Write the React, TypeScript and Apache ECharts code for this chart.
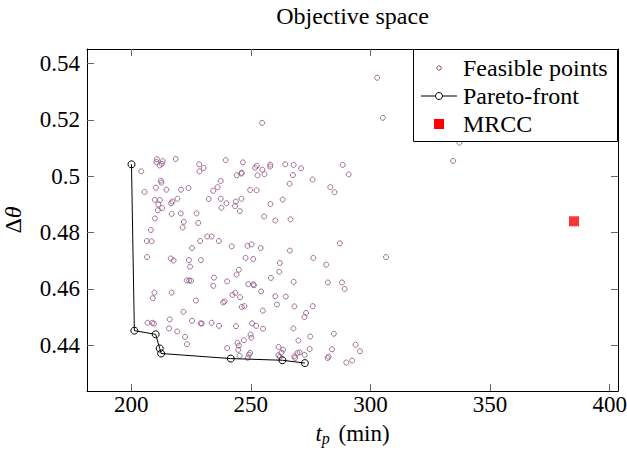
import React, { useEffect, useRef } from "react";
import * as echarts from "echarts";

// Feasible points: processing time t_p (min) and Δθ
const feasibleTp: number[] = [
  302.8, 305.2, 254.7, 334.6, 337.2, 210.7, 210.5, 213.1, 212.8, 211.9, 218.6, 204.2, 228.4, 230.3, 228.5,
  239.5, 246.7, 251.8, 252.5, 254.8, 258.1, 258.1, 264.4, 267.9, 271.0, 246.2, 246.0, 244.1, 252.8, 255.7,
  267.6, 288.4, 290.9, 212.4, 212.6, 237.4, 266.2, 275.8, 210.3, 214.7, 205.6, 220.8, 223.9, 236.1, 234.3,
  249.7, 252.4, 283.2, 285.0, 209.8, 212.0, 219.3, 232.4, 237.4, 246.1, 263.3, 211.3, 216.7, 217.2, 239.8,
  243.7, 243.4, 258.2, 212.9, 211.1, 237.7, 245.4, 216.9, 220.7, 227.3, 255.6, 209.9, 222.0, 228.0, 260.2,
  266.6, 221.5, 208.2, 231.8, 233.6, 206.5, 208.5, 228.8, 236.6, 287.2, 242.0, 248.6, 250.3, 225.4, 254.1,
  266.3, 206.6, 216.5, 217.7, 224.1, 229.1, 247.8, 251.0, 276.1, 306.5, 262.1, 281.5, 224.6, 245.0, 244.0,
  261.9, 234.6, 258.4, 223.2, 224.2, 225.0, 240.1, 267.9, 282.2, 288.1, 248.9, 251.0, 251.3, 234.3, 289.2,
  209.7, 216.9, 243.5, 242.3, 254.3, 245.5, 260.2, 264.6, 209.0, 227.0, 239.0, 238.4, 260.9, 246.2, 247.3,
  268.2, 275.9, 255.0, 221.8, 273.1, 272.4, 216.1, 225.4, 206.8, 208.8, 209.5, 229.0, 229.5, 233.6, 236.7,
  243.8, 250.5, 252.2, 215.8, 255.1, 267.8, 219.2, 249.9, 250.2, 274.8, 284.7, 222.5, 247.1, 269.9, 244.4,
  245.0, 223.3, 293.8, 240.1, 244.7, 261.6, 263.5, 262.8, 274.6, 283.9, 295.6, 249.7, 249.2, 248.7, 245.3,
  270.4, 269.5, 268.2, 268.5, 272.5, 261.5, 262.1, 282.5, 282.1, 289.9, 292.4,
];
const feasibleDTheta: number[] = [
  0.5349, 0.5207, 0.5189, 0.5054, 0.5119, 0.506, 0.505, 0.5053, 0.5044, 0.5038, 0.5061, 0.5017, 0.5042, 0.5029, 0.5017,
  0.5057, 0.5049, 0.503, 0.5037, 0.5023, 0.5041, 0.5034, 0.5042, 0.504, 0.5028, 0.5012, 0.5009, 0.5003, 0.5003, 0.5007,
  0.5004, 0.504, 0.5006, 0.4984, 0.4977, 0.4983, 0.4973, 0.4988, 0.4959, 0.4952, 0.4944, 0.4952, 0.4958, 0.4961, 0.4948,
  0.4951, 0.495, 0.4961, 0.4943, 0.4916, 0.4915, 0.492, 0.4919, 0.492, 0.492, 0.4917, 0.49, 0.4904, 0.491, 0.4904,
  0.491, 0.4894, 0.4901, 0.4887, 0.4879, 0.4888, 0.4876, 0.4866, 0.4868, 0.4868, 0.4857, 0.485, 0.4838, 0.4834, 0.4843,
  0.4847, 0.4818, 0.4809, 0.4786, 0.4786, 0.477, 0.4769, 0.477, 0.477, 0.4762, 0.4751, 0.4753, 0.4758, 0.4745, 0.4745,
  0.4736, 0.4713, 0.4708, 0.4701, 0.4702, 0.4702, 0.471, 0.4706, 0.471, 0.4713, 0.4692, 0.4686, 0.4679, 0.4668, 0.4651,
  0.4661, 0.464, 0.4639, 0.463, 0.463, 0.4629, 0.4627, 0.4625, 0.4623, 0.4623, 0.4617, 0.4616, 0.4613, 0.4611, 0.46,
  0.4587, 0.4587, 0.4586, 0.4579, 0.4591, 0.4571, 0.4574, 0.4573, 0.4567, 0.4559, 0.4556, 0.4552, 0.4545, 0.4536, 0.4539,
  0.4538, 0.4539, 0.4523, 0.4519, 0.4515, 0.45, 0.4492, 0.4487, 0.448, 0.448, 0.4477, 0.4478, 0.4477, 0.448, 0.4469,
  0.4468, 0.4478, 0.4469, 0.446, 0.4459, 0.446, 0.4449, 0.4438, 0.4427, 0.4431, 0.4441, 0.443, 0.4418, 0.4417, 0.4409,
  0.4399, 0.4404, 0.4402, 0.439, 0.4384, 0.4394, 0.4385, 0.4374, 0.4387, 0.4386, 0.4379, 0.4373, 0.4367, 0.4356, 0.4363,
  0.4375, 0.4373, 0.4361, 0.4355, 0.4366, 0.4365, 0.4359, 0.436, 0.4355, 0.4339, 0.4346,
];

// Pareto front
const paretoTp: number[] = [200.1, 201.3, 210.2, 211.9, 212.5, 241.6, 263.2, 272.6];
const paretoDTheta: number[] = [0.5042, 0.4452, 0.4439, 0.4389, 0.4371, 0.4353, 0.4347, 0.4337];

// MRCC
const mrccTp: number[] = [385.1];
const mrccDTheta: number[] = [0.484];

// Ticks
const xTicks: number[] = [200, 250, 300, 350, 400];
const yTicks: number[] = [0.44, 0.46, 0.48, 0.5, 0.52, 0.54];

const legendLabels: string[] = ["Feasible points", "Pareto-front", "MRCC"];
const titleText = "Objective space";

const FONT = "Liberation Serif";
const PURPLE = "#8a4f7d";

export default function App() {
  const ref = useRef<HTMLDivElement>(null);

  useEffect(() => {
    if (!ref.current) return;
    const chart = echarts.init(ref.current, null, { renderer: "svg" });

    const feasible = feasibleTp.map((t, i) => [t, feasibleDTheta[i]]);
    const pareto = paretoTp.map((t, i) => [t, paretoDTheta[i]]);
    const mrcc = mrccTp.map((t, i) => [t, mrccDTheta[i]]);

    const xMin = 181.5;
    const xMax = 403.5;
    const yMin = 0.4238;
    const yMax = 0.5451;

    const tickStyle = { color: "#666", width: 1 };
    const lineStyle = { color: "#000", width: 1 };

    const legendX = 413.5;
    const legendY = 49.5;
    const rowY = [68, 96, 124];
    const markX = 439;
    const textX = 463;

    const option: any = {
      animation: false,
      backgroundColor: "#fff",
      textStyle: { fontFamily: FONT },
      grid: { left: 87, right: 9, top: 49, bottom: 65, containLabel: false, outerBoundsMode: "none" },
      xAxis: [
        {
          type: "value",
          min: xMin,
          max: xMax,
          position: "bottom",
          axisLine: { show: true, onZero: false, lineStyle },
          axisTick: { show: true, inside: true, length: 7, customValues: xTicks, lineStyle: tickStyle },
          axisLabel: {
            show: true,
            customValues: xTicks,
            margin: 2,
            color: "#000",
            fontFamily: FONT,
            fontSize: 23,
          },
          splitLine: { show: false },
          name: "{it|t}{sub|p} (min)",
          nameLocation: "middle",
          nameGap: 29,
          nameTextStyle: {
            color: "#000",
            fontFamily: FONT,
            fontSize: 23,
            rich: {
              it: { fontFamily: FONT, fontSize: 23, fontStyle: "italic", color: "#000" },
              sub: { fontFamily: FONT, fontSize: 16, fontStyle: "italic", color: "#000", padding: [10, 3, 0, 0] },
            },
          },
        },
        {
          type: "value",
          min: xMin,
          max: xMax,
          position: "top",
          axisLine: { show: true, onZero: false, lineStyle },
          axisTick: { show: true, inside: true, length: 7, customValues: xTicks, lineStyle: tickStyle },
          axisLabel: { show: false },
          splitLine: { show: false },
        },
      ],
      yAxis: [
        {
          type: "value",
          min: yMin,
          max: yMax,
          position: "left",
          axisLine: { show: true, onZero: false, lineStyle },
          axisTick: { show: true, inside: true, length: 7, customValues: yTicks, lineStyle: tickStyle },
          axisLabel: {
            show: true,
            customValues: yTicks,
            margin: 7,
            color: "#000",
            fontFamily: FONT,
            fontSize: 23,
            formatter: (v: number) => String(Number(v.toFixed(2))),
          },
          splitLine: { show: false },
          name: "{d|Δ}{th|θ}",
          nameLocation: "middle",
          nameRotate: 90,
          nameGap: 62,
          nameTextStyle: {
            color: "#000",
            fontFamily: FONT,
            fontSize: 24,
            rich: {
              d: { fontFamily: FONT, fontSize: 24, color: "#000" },
              th: { fontFamily: FONT, fontSize: 24, fontStyle: "italic", color: "#000" },
            },
          },
        },
        {
          type: "value",
          min: yMin,
          max: yMax,
          position: "right",
          axisLine: { show: true, onZero: false, lineStyle },
          axisTick: { show: true, inside: true, length: 7, customValues: yTicks, lineStyle: tickStyle },
          axisLabel: { show: false },
          splitLine: { show: false },
        },
      ],
      series: [
        {
          name: legendLabels[0],
          type: "scatter",
          xAxisIndex: 0,
          yAxisIndex: 0,
          data: feasible,
          symbol: "circle",
          symbolSize: 5,
          itemStyle: { color: "rgba(255,255,255,0)", borderColor: PURPLE, borderWidth: 1 },
          z: 2,
        },
        {
          name: legendLabels[1],
          type: "line",
          xAxisIndex: 0,
          yAxisIndex: 0,
          data: pareto,
          symbol: "circle",
          symbolSize: 7,
          showSymbol: true,
          lineStyle: { color: "#000", width: 1 },
          itemStyle: { color: "rgba(255,255,255,0)", borderColor: "#000", borderWidth: 1 },
          z: 3,
        },
        {
          name: legendLabels[2],
          type: "scatter",
          xAxisIndex: 0,
          yAxisIndex: 0,
          data: mrcc,
          symbol: "rect",
          symbolSize: 10,
          itemStyle: { color: "#ff0000" },
          z: 4,
        },
      ],
      graphic: [
        {
          type: "text",
          x: 352.5,
          y: 16,
          z: 100,
          style: {
            text: titleText,
            fontFamily: FONT,
            fontSize: 24,
            fill: "#000",
            align: "center",
            verticalAlign: "middle",
          },
        },
        {
          type: "rect",
          z: 100,
          shape: { x: legendX, y: legendY, width: 204, height: 92 },
          style: { fill: "#fff", stroke: "#000", lineWidth: 1 },
        },
        {
          type: "circle",
          z: 101,
          shape: { cx: markX, cy: rowY[0], r: 2.2 },
          style: { fill: "none", stroke: PURPLE, lineWidth: 1 },
        },
        {
          type: "line",
          z: 101,
          shape: { x1: 421, y1: rowY[1], x2: 457, y2: rowY[1] },
          style: { stroke: "#000", lineWidth: 1 },
        },
        {
          type: "circle",
          z: 102,
          shape: { cx: markX, cy: rowY[1], r: 3.5 },
          style: { fill: "#fff", stroke: "#000", lineWidth: 1 },
        },
        {
          type: "rect",
          z: 101,
          shape: { x: markX - 5, y: rowY[2] - 5, width: 10, height: 10 },
          style: { fill: "#ff0000" },
        },
        ...legendLabels.map((label, i) => ({
          type: "text",
          z: 101,
          x: textX,
          y: rowY[i],
          style: {
            text: label,
            fontFamily: FONT,
            fontSize: 24,
            fill: "#000",
            align: "left",
            verticalAlign: "middle",
          },
        })),
      ],
    };

    chart.setOption(option);
    return () => chart.dispose();
  }, []);

  return (
    <div
      ref={ref}
      style={{ position: "absolute", left: 0, top: 0, width: 627, height: 456 }}
    />
  );
}
